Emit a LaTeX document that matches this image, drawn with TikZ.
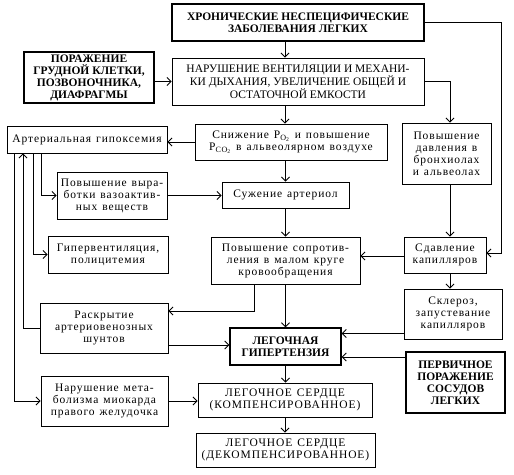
\documentclass[tikz,border=0pt]{standalone}
\usepackage{fontspec}
\setmainfont{Liberation Serif}
\newfontfamily\razr[LetterSpace=8, WordSpace=1.3]{Liberation Serif}
\usetikzlibrary{arrows.meta}
\tikzstyle{blok}=[draw, line width=0.9pt, align=center, inner sep=1pt, font=\fontsize{11.5}{12}\razr]
\tikzstyle{glav}=[blok, line width=1.3pt, font=\fontsize{11.5}{12}\selectfont\bfseries]
\newcommand{\blok}{\node[blok]}
\newcommand{\glav}{\node[glav]}

\begin{document}
\begin{tikzpicture}[x=1pt, y=-1pt,
            >={Straight Barb[length=4pt,width=8pt]},
            every edge/.style={draw, ->, line width=0.9pt}
        ]
            \useasboundingbox (0,0) rectangle (514,474);

            % top row
            \glav (hron) at (298,22.5) [minimum width=252pt, minimum height=37pt]
                {ХРОНИЧЕСКИЕ НЕСПЕЦИФИЧЕСКИЕ\\ЗАБОЛЕВАНИЯ ЛЕГКИХ};
            \glav (porazh) at (89,77.5) [minimum width=130pt, minimum height=51pt]
                {ПОРАЖЕНИЕ\\ГРУДНОЙ КЛЕТКИ,\\ПОЗВОНОЧНИКА,\\ДИАФРАГМЫ};
            \blok (narush) at (298,81.5) [minimum width=252pt, minimum height=47pt, font=\fontsize{11.5}{12}\selectfont]
                {НАРУШЕНИЕ ВЕНТИЛЯЦИИ И МЕХАНИ-\\КИ ДЫХАНИЯ, УВЕЛИЧЕНИЕ ОБЩЕЙ И\\ОСТАТОЧНОЙ ЕМКОСТИ};

            % middle column
            \blok (snizh) at (291,142) [minimum width=192pt, minimum height=36pt]
                {Снижение P\textsubscript{O\textsubscript{2}} и повышение\\P\textsubscript{CO\textsubscript{2}} в альвеолярном воздухе};
            \blok (suzh) at (285.5,195) [minimum width=127pt, minimum height=26pt]
                {Сужение артериол};
            \blok (sopr) at (285.5,260.5) [minimum width=149pt, minimum height=47pt]
                {Повышение сопротив-\\ления в малом круге\\кровообращения};
            \glav (gipert) at (285.5,346.5) [minimum width=111pt, minimum height=37pt]
                {ЛЕГОЧНАЯ\\ГИПЕРТЕНЗИЯ};
            \blok (komp) at (285,400) [minimum width=174pt, minimum height=34pt]
                {ЛЕГОЧНОЕ СЕРДЦЕ\\(КОМПЕНСИРОВАННОЕ)};
            \blok (dekomp) at (285.5,450) [minimum width=179pt, minimum height=34pt]
                {ЛЕГОЧНОЕ СЕРДЦЕ\\(ДЕКОМПЕНСИРОВАННОЕ)};

            % left column
            \blok (gipox) at (87,139.5) [minimum width=160pt, minimum height=27pt]
                {Артериальная гипоксемия};
            \blok (vazo) at (112,195.5) [minimum width=110pt, minimum height=47pt]
                {Повышение выра-\\ботки вазоактив-\\ных веществ};
            \blok (giperv) at (108,254.5) [minimum width=120pt, minimum height=37pt]
                {Гипервентиляция,\\полицитемия};
            \blok (raskr) at (104,328) [minimum width=128pt, minimum height=50pt]
                {Раскрытие\\артериовенозных\\шунтов};
            \blok (metab) at (104.5,401) [minimum width=127pt, minimum height=50pt]
                {Нарушение мета-\\болизма миокарда\\правого желудочка};

            % right column
            \blok (davl) at (446.5,153.5) [minimum width=89pt, minimum height=61pt]
                {Повышение\\давления в\\бронхиолах\\и альвеолах};
            \blok (sdavl) at (445,255) [minimum width=82pt, minimum height=36pt]
                {Сдавление\\капилляров};
            \blok (skler) at (453,314) [minimum width=98pt, minimum height=50pt]
                {Склероз,\\запустевание\\капилляров};
            \glav (perv) at (455.5,382.5) [minimum width=99pt, minimum height=61pt]
                {ПЕРВИЧНОЕ\\ПОРАЖЕНИЕ\\СОСУДОВ\\ЛЕГКИХ};

            \coordinate (pravo) at (501,22.5);
            \coordinate (g1) at ([yshift=13pt]gipert.east);
            \coordinate (g2) at ([yshift=-10.5pt]gipert.east);
            \coordinate (r1) at ([yshift=-17pt]raskr.east);
            \coordinate (r2) at ([yshift=17pt]raskr.east);
            \coordinate (s1) at ([xshift=-31pt]sopr.south);

            \path
                ([xshift=-13pt]hron.south) edge ([xshift=-13pt]narush.north)
                ([yshift=-4pt]porazh.east) edge ([yshift=-4pt]porazh.east -| narush.west)
                ([xshift=-13pt]narush.south) edge ([xshift=-13pt]narush.south |- snizh.north)
                (snizh.west) edge (snizh.west -| gipox.east)
                (snizh.south -| suzh) edge (suzh.north)
                (vazo.east) edge (vazo.east -| suzh.west)
                (suzh.south) edge (sopr.north)
                (sopr.south) edge (gipert.north)
                (gipert.south) edge (gipert.south |- komp.north)
                (komp.south) edge (komp.south |- dekomp.north)
                (metab.east) edge (metab.east -| komp.west)
                (r1) edge (r1 -| gipert.west)
                ([xshift=3.5pt]davl.south) edge ([xshift=3.5pt]davl.south |- sdavl.north)
                ([yshift=-1pt]sdavl.west) edge ([yshift=-1pt]sdavl.west -| sopr.east)
                ([xshift=5pt]sdavl.south) edge ([xshift=5pt]sdavl.south |- skler.north)
                (skler.west |- g1) edge (g1)
                (perv.west |- g2) edge (g2)
            ;

            \draw[->, line width=0.9pt] (hron.east) -- (pravo) |- ([yshift=2pt]sdavl.east);
            \draw[->, line width=0.9pt] (narush.east) -| ([xshift=3.5pt]davl.north);
            \draw[->, line width=0.9pt] (s1) |- (r2);
            \draw[->, line width=0.9pt] (raskr.west) -| ([xshift=-64pt]gipox.south);
            \draw[->, line width=0.9pt] ([xshift=-73pt]gipox.south) |- (metab.west);
            \draw[->, line width=0.9pt] ([xshift=-54pt]gipox.south) |- (giperv.west);
            \draw[->, line width=0.9pt] ([xshift=-46pt]gipox.south) |- (vazo.west);
        \end{tikzpicture}
\end{document}
